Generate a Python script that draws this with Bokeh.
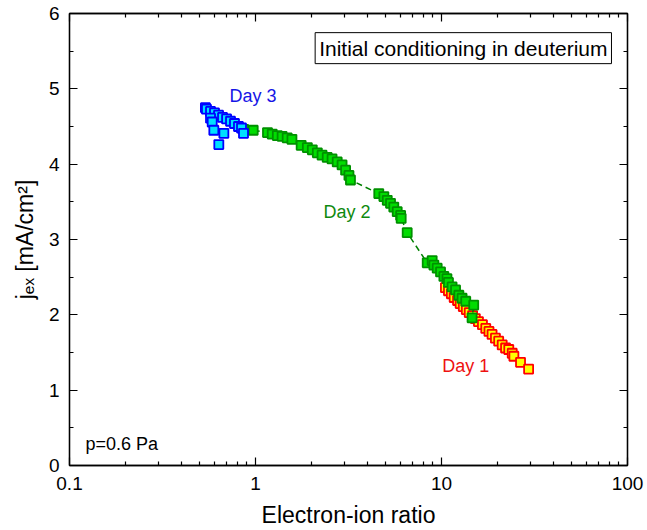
from bokeh.plotting import figure
from bokeh.models import LogAxis, LinearAxis, FixedTicker, Label, CustomJSTickFormatter, Range1d
from bokeh.embed import file_html
from bokeh.resources import INLINE

# ---- data ----
day1_x = [10.5, 10.9, 11.3, 11.7, 12.2, 12.6, 13.1, 13.6, 14.1, 14.7, 15.2, 15.8, 16.6,
          17.3, 18.0, 18.7, 19.5, 20.3, 21.2, 22.1, 23.0, 24.0, 24.5, 26.6, 29.4]
day1_y = [2.36, 2.32, 2.28, 2.23, 2.19, 2.15, 2.11, 2.07, 2.03, 1.99, 1.95, 1.91, 1.87,
          1.82, 1.78, 1.74, 1.69, 1.65, 1.60, 1.56, 1.54, 1.49, 1.45, 1.37, 1.28]

day2_x = [0.865, 0.972, 1.16, 1.23, 1.31, 1.39, 1.48, 1.57, 1.76, 1.90, 2.02, 2.15, 2.28,
          2.43, 2.58, 2.75, 2.92, 3.05, 3.18, 3.24, 4.60, 4.90, 5.11, 5.32, 5.54, 5.78,
          6.03, 6.07, 6.54, 8.38, 8.91, 9.10, 9.48, 9.88, 10.3, 10.7, 10.9, 11.4, 11.9,
          12.4, 12.9, 13.5, 14.9, 14.6]
day2_y = [4.46, 4.45, 4.42, 4.40, 4.38, 4.37, 4.35, 4.33, 4.25, 4.22, 4.19, 4.15, 4.12,
          4.09, 4.07, 4.03, 3.99, 3.92, 3.85, 3.79, 3.61, 3.57, 3.52, 3.48, 3.43, 3.37,
          3.32, 3.28, 3.09, 2.69, 2.72, 2.66, 2.62, 2.57, 2.51, 2.48, 2.43, 2.37, 2.33,
          2.26, 2.22, 2.18, 2.13, 1.96]

day3_x = [0.538, 0.545, 0.573, 0.602, 0.633, 0.665, 0.699, 0.734, 0.771, 0.810, 0.841,
          0.862, 0.573, 0.585, 0.597, 0.676, 0.635]
day3_y = [4.75, 4.73, 4.70, 4.68, 4.65, 4.62, 4.60, 4.57, 4.54, 4.50, 4.48,
          4.41, 4.61, 4.56, 4.45, 4.41, 4.26]

x_major = [0.1, 1, 10, 100]
x_minor = [0.2, 0.3, 0.4, 0.5, 0.6, 0.7, 0.8, 0.9,
           2, 3, 4, 5, 6, 7, 8, 9,
           20, 30, 40, 50, 60, 70, 80, 90]
y_major = [0, 1, 2, 3, 4, 5, 6]
y_minor = [0.5, 1.5, 2.5, 3.5, 4.5, 5.5]

x_title = "Electron-ion ratio"
y_title = "j\u2091\u2093 [mA/cm\u00b2]"
box_text = "Initial conditioning in deuterium"
pressure_text = "p=0.6 Pa"
day_labels = ["Day 1", "Day 2", "Day 3"]
label_pos = {"Day 1": (10.1, 1.32), "Day 2": (2.32, 3.36), "Day 3": (0.724, 4.91)}

FONT = "Liberation Sans"

p = figure(width=647, height=530, x_axis_type="log",
           x_range=Range1d(0.1, 100), y_range=Range1d(0, 6),
           output_backend="svg", toolbar_location=None,
           min_border_left=69, min_border_right=20, min_border_top=13, min_border_bottom=64)
p.grid.visible = False
p.outline_line_color = "black"
p.outline_line_width = 1.3
p.background_fill_color = "white"
p.border_fill_color = "white"

def style_axis(ax, show_labels):
    ax.major_tick_in = 8
    ax.major_tick_out = 0
    ax.minor_tick_in = 4
    ax.minor_tick_out = 0
    ax.axis_line_color = "black"
    ax.axis_line_width = 1.3
    ax.major_tick_line_color = "black"
    ax.minor_tick_line_color = "black"
    ax.major_tick_line_width = 1.2
    ax.minor_tick_line_width = 1.2
    ax.major_label_text_font = FONT
    ax.major_label_text_font_size = "19px"
    ax.major_label_text_color = "black"
    ax.axis_label_text_font = FONT
    ax.axis_label_text_font_size = "23px"
    ax.axis_label_text_font_style = "normal"
    ax.axis_label_text_color = "black"
    if not show_labels:
        ax.formatter = CustomJSTickFormatter(code="return ''")
        ax.major_label_standoff = 0
        ax.major_label_text_font_size = "1px"

xb = p.xaxis[0]
xb.ticker = FixedTicker(ticks=x_major, minor_ticks=x_minor)
xb.formatter = CustomJSTickFormatter(code="return String(tick)")
xb.axis_label = x_title
xb.major_label_standoff = 11
xb.axis_label_standoff = 9
style_axis(xb, True)

yl = p.yaxis[0]
yl.ticker = FixedTicker(ticks=y_major, minor_ticks=y_minor)
yl.axis_label = y_title
yl.major_label_standoff = 10
yl.axis_label_standoff = 8
style_axis(yl, True)

xt = LogAxis(ticker=FixedTicker(ticks=x_major, minor_ticks=x_minor))
style_axis(xt, False)
p.add_layout(xt, "above")
yr = LinearAxis(ticker=FixedTicker(ticks=y_major, minor_ticks=y_minor))
style_axis(yr, False)
p.add_layout(yr, "right")

# ---- series ----
p.line(day1_x, day1_y, line_color="#ff0000", line_width=1.5, line_dash="6 4")
p.scatter(day1_x, day1_y, marker="square", size=9, fill_color="#ffff00",
          line_color="#ff0000", line_width=1.8)

p.line(day2_x, day2_y, line_color="#008000", line_width=1.5, line_dash="6 4")
p.scatter(day2_x, day2_y, marker="square", size=9, fill_color="#00dd00",
          line_color="#009000", line_width=1.8)

p.line(day3_x[:12], day3_y[:12], line_color="#0000ff", line_width=1.5, line_dash="6 4")
p.scatter(day3_x, day3_y, marker="square", size=9, fill_color="#00e0ff",
          line_color="#0000ff", line_width=1.8)

colors = {"Day 1": "#ee1111", "Day 2": "#0f8a0f", "Day 3": "#1515e6"}
for name in day_labels:
    lx, ly = label_pos[name]
    p.add_layout(Label(x=lx, y=ly, text=name, text_font=FONT, text_font_size="18px",
                       text_color=colors[name], text_baseline="middle", text_align="left"))

p.add_layout(Label(x=0.122, y=0.29, text=pressure_text, text_font=FONT,
                   text_font_size="18px", text_color="black",
                   text_baseline="middle", text_align="left"))

p.add_layout(Label(x=13.1, y=5.54, text=box_text, text_font=FONT, text_font_size="21px",
                   text_color="black", text_baseline="middle", text_align="center",
                   border_line_color="black", border_line_width=1,
                   background_fill_color="white", padding=4))

open("out.html", "w").write(file_html(p, INLINE))
